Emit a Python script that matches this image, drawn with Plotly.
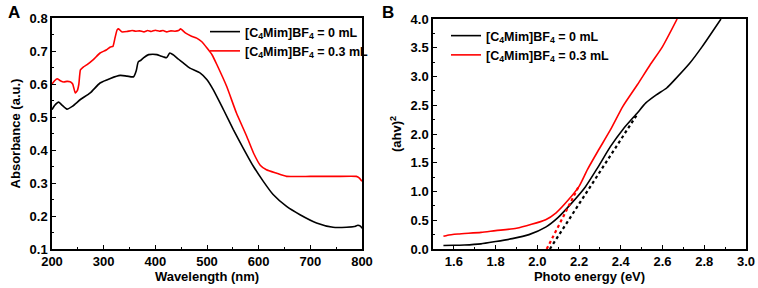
import plotly.graph_objects as go

# ---------- Panel A data: absorbance vs wavelength ----------
wl_0 = [200, 205, 213, 220, 229, 240, 255, 274, 293, 313, 332, 345, 358, 363, 367, 372,
        377, 387, 395, 403, 410, 416, 422, 428, 435, 445, 454, 467, 487, 500, 512, 532,
        551, 570, 590, 609, 628, 654, 680, 712, 744, 770, 785, 792, 797, 800]
abs_0 = [0.522, 0.535, 0.545, 0.535, 0.524, 0.533, 0.553, 0.573, 0.603, 0.617, 0.626, 0.624, 0.622, 0.640, 0.667, 0.672,
         0.679, 0.689, 0.690, 0.689, 0.685, 0.682, 0.680, 0.694, 0.688, 0.675, 0.664, 0.648, 0.633, 0.613, 0.583, 0.522,
         0.462, 0.406, 0.350, 0.305, 0.265, 0.229, 0.204, 0.179, 0.166, 0.166, 0.168, 0.172, 0.169, 0.163]

wl_03 = [200, 205, 210, 216, 223, 229, 235, 240, 245, 249, 252, 255, 261, 268, 280, 293,
         305, 313, 318, 322, 326, 329, 335, 345, 355, 362, 370, 378, 385, 392, 400, 408,
         415, 422, 430, 438, 445, 449, 458, 470, 480, 490, 500, 510, 519, 538,
         557, 577, 590, 603, 615, 634, 654, 700, 750, 789, 795, 800]
abs_03 = [0.600, 0.610, 0.616, 0.610, 0.606, 0.608, 0.607, 0.600, 0.573, 0.580, 0.600, 0.643, 0.652, 0.659, 0.674, 0.694,
          0.703, 0.712, 0.714, 0.740, 0.764, 0.767, 0.758, 0.759, 0.762, 0.760, 0.761, 0.758, 0.762, 0.759, 0.763, 0.760,
          0.762, 0.758, 0.761, 0.760, 0.762, 0.767, 0.755, 0.745, 0.739, 0.728, 0.709, 0.688, 0.659, 0.593,
          0.512, 0.441, 0.391, 0.354, 0.340, 0.330, 0.320, 0.320, 0.320, 0.320, 0.315, 0.305]

# ---------- Panel B data: Tauc plot ----------
ev_0 = [1.55, 1.60, 1.65, 1.73, 1.80, 1.88, 1.96, 2.04, 2.10, 2.16, 2.23, 2.29, 2.35, 2.41,
        2.48, 2.52, 2.57, 2.62, 2.66, 2.73, 2.79, 2.88]
tauc_0 = [0.06, 0.065, 0.07, 0.09, 0.13, 0.18, 0.25, 0.38, 0.55, 0.78, 1.08, 1.42, 1.78, 2.08,
          2.37, 2.54, 2.68, 2.80, 2.95, 3.23, 3.52, 4.0]

ev_03 = [1.55, 1.57, 1.62, 1.73, 1.80, 1.90, 2.04, 2.09, 2.15, 2.20, 2.24, 2.29, 2.35, 2.41,
         2.48, 2.54, 2.60, 2.67]
tauc_03 = [0.22, 0.24, 0.26, 0.29, 0.32, 0.36, 0.51, 0.63, 0.86, 1.09, 1.38, 1.70, 2.07, 2.48,
           2.86, 3.20, 3.52, 4.0]

# linear extrapolations (band-gap fits)
fit_ev_0 = [2.06, 2.48]
fit_tauc_0 = [0.0, 2.35]
fit_ev_03 = [2.045, 2.20]
fit_tauc_03 = [0.0, 1.10]

labels = ["[C<sub>4</sub>Mim]BF<sub>4</sub> = 0 mL", "[C<sub>4</sub>Mim]BF<sub>4</sub> = 0.3 mL"]

FONT = "Liberation Sans, Arial, sans-serif"
BLACK = "#000000"
RED = "#ff0000"

fig = go.Figure()
fig.add_trace(go.Scatter(x=wl_0, y=abs_0, mode="lines", line=dict(color=BLACK, width=1.6, shape="spline", smoothing=0.6),
                         name=labels[0], xaxis="x", yaxis="y", legend="legend"))
fig.add_trace(go.Scatter(x=wl_03, y=abs_03, mode="lines", line=dict(color=RED, width=1.6, shape="spline", smoothing=0.4),
                         name=labels[1], xaxis="x", yaxis="y", legend="legend"))

fig.add_trace(go.Scatter(x=ev_0, y=tauc_0, mode="lines", line=dict(color=BLACK, width=1.6, shape="spline", smoothing=0.6),
                         name=labels[0], xaxis="x2", yaxis="y2", legend="legend2"))
fig.add_trace(go.Scatter(x=ev_03, y=tauc_03, mode="lines", line=dict(color=RED, width=1.6, shape="spline", smoothing=0.6),
                         name=labels[1], xaxis="x2", yaxis="y2", legend="legend2"))
fig.add_trace(go.Scatter(x=fit_ev_0, y=fit_tauc_0, mode="lines", line=dict(color=BLACK, width=2.2, dash="dot"),
                         showlegend=False, xaxis="x2", yaxis="y2"))
fig.add_trace(go.Scatter(x=fit_ev_03, y=fit_tauc_03, mode="lines", line=dict(color=RED, width=2.2, dash="dot"),
                         showlegend=False, xaxis="x2", yaxis="y2"))

W, H = 758, 288
def px(x):
    return x / W
def py(y):
    return 1 - y / H

tickfont = dict(family=FONT, size=13, color=BLACK, weight="bold")
titlefont = dict(family=FONT, size=13, color=BLACK, weight="bold")
legfont = dict(family=FONT, size=12.5, color=BLACK, weight="bold")
common = dict(showline=True, linecolor=BLACK, linewidth=1.5, mirror=True, ticks="inside", ticklen=4,
              tickwidth=1.2, tickcolor=BLACK, showgrid=False, zeroline=False, tickfont=tickfont,
              automargin=False)

fig.update_layout(
    width=W, height=H, margin=dict(l=0, r=0, t=0, b=0, autoexpand=False),
    paper_bgcolor="white", plot_bgcolor="white",
    font=dict(family=FONT, color=BLACK),
    xaxis=dict(domain=[px(52), px(362)], range=[200, 800], dtick=100,
               minor=dict(ticks="inside", dtick=50, ticklen=2, tickcolor=BLACK),
               title=dict(text="Wavelength (nm)", font=titlefont, standoff=2), anchor="y", **common),
    yaxis=dict(domain=[py(249), py(18)], range=[0.1, 0.8], dtick=0.1, tickformat=".1f",
               minor=dict(ticks="inside", dtick=0.05, ticklen=2, tickcolor=BLACK),
               title=dict(text="Absorbance (a.u.)", font=titlefont, standoff=6), anchor="x", **common),
    xaxis2=dict(domain=[px(433), px(746)], range=[1.5, 3.0], tick0=1.6, dtick=0.2, tickformat=".1f",
                minor=dict(ticks="inside", dtick=0.1, tick0=1.5, ticklen=2, tickcolor=BLACK),
                title=dict(text="Photo energy (eV)", font=titlefont, standoff=2), anchor="y2", **common),
    yaxis2=dict(domain=[py(249), py(19)], range=[0, 4.0], dtick=0.5, tickformat=".1f",
                minor=dict(ticks="inside", dtick=0.25, ticklen=2, tickcolor=BLACK),
                title=dict(text="(ahv)<sup>2</sup>", font=titlefont, standoff=6), anchor="x2", **common),
    legend=dict(x=px(205), y=py(17), xanchor="left", yanchor="top", bgcolor="rgba(0,0,0,0)",
                font=legfont, tracegroupgap=0, itemwidth=30),
    legend2=dict(x=px(446), y=py(21), xanchor="left", yanchor="top", bgcolor="rgba(0,0,0,0)",
                 font=legfont, tracegroupgap=0, itemwidth=30),
    annotations=[
        dict(text="A", x=px(14), y=py(13), xref="paper", yref="paper", showarrow=False,
             xanchor="center", yanchor="middle",
             font=dict(family=FONT, size=17, color=BLACK, weight="bold")),
        dict(text="B", x=px(388), y=py(13), xref="paper", yref="paper", showarrow=False,
             xanchor="center", yanchor="middle",
             font=dict(family=FONT, size=17, color=BLACK, weight="bold")),
    ],
)

fig.write_html("out.html", config={"displayModeBar": False},
               post_script="document.body.style.margin='0';document.body.style.overflow='hidden';")
